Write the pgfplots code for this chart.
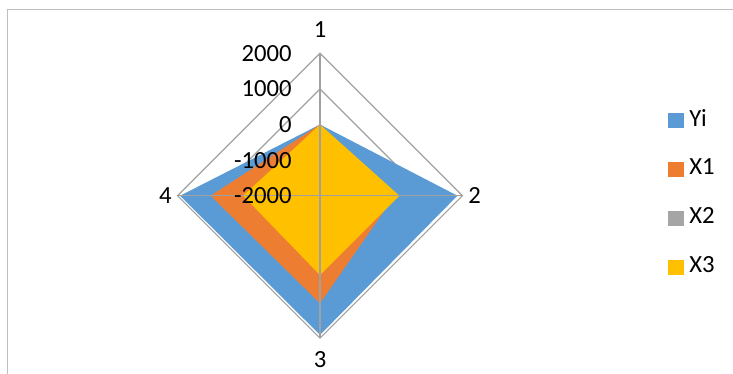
\documentclass[border=0pt]{standalone}
\usepackage{pgfplots}
\pgfplotsset{compat=1.18}
\usepackage{pgfplotstable}
\usepackage{fontspec}
\setmainfont{Carlito}
\definecolor{cYi}{HTML}{5B9BD5}
\definecolor{cX1}{HTML}{ED7D31}
\definecolor{cX2}{HTML}{A5A5A5}
\definecolor{cX3}{HTML}{FFC000}
\definecolor{gridc}{HTML}{A0A0A0}
\definecolor{framec}{HTML}{BFBFBF}
% direction of each spoke (dx,dy) and the values of each series
\pgfplotstableread{
dx dy Yi X1 X2 X3
0 1 0 0 0 0
1 0 1860 100 0 230
0 -1 1910 1020 0 230
-1 0 1930 1070 0 160
}\radar
\begin{document}
\begin{tikzpicture}[font=\fontsize{18.5}{22}\selectfont]
\path[use as bounding box] (0,0) rectangle (549.75pt,280.5pt);
\draw[draw=framec, line width=0.75pt] (5.6pt,-5pt) -- (5.6pt,273pt) -- (560pt,273pt);
\begin{axis}[at={(240pt,133.7pt)}, anchor=origin,
  x=26.7pt, y=26.7pt, xmin=-4, xmax=4, ymin=-4, ymax=4,
  hide axis, clip=false,
  legend image code/.code={\fill[#1] (0pt,-7pt) rectangle (11.5pt,4.5pt);},
  legend cell align=left,
  legend style={draw=none, fill=none, at={(1.722,0.805)}, anchor=north west,
    font=\fontsize{18.5}{22}\selectfont, row sep=23pt, column sep=4.3pt,
    inner sep=0pt, nodes={inner sep=0pt}},
]
% rings (values -1000, 0, 1000, 2000)
\draw[gridc, line width=0.9pt] (axis cs:0,1) -- (axis cs:1,0) -- (axis cs:0,-1) -- (axis cs:-1,0) -- cycle;
\draw[gridc, line width=0.9pt] (axis cs:0,2) -- (axis cs:2,0) -- (axis cs:0,-2) -- (axis cs:-2,0) -- cycle;
\draw[gridc, line width=0.9pt] (axis cs:0,3) -- (axis cs:3,0) -- (axis cs:0,-3) -- (axis cs:-3,0) -- cycle;
\draw[gridc, line width=0.9pt] (axis cs:0,4) -- (axis cs:4,0) -- (axis cs:0,-4) -- (axis cs:-4,0) -- cycle;

\addplot[fill=cYi, draw=none] table[x expr=\thisrow{dx}*(\thisrow{Yi}+2000)/1000, y expr=\thisrow{dy}*(\thisrow{Yi}+2000)/1000] {\radar};
\addlegendentry{Yi}
\addplot[fill=cX1, draw=none] table[x expr=\thisrow{dx}*(\thisrow{X1}+2000)/1000, y expr=\thisrow{dy}*(\thisrow{X1}+2000)/1000] {\radar};
\addlegendentry{X1}
\addplot[fill=cX2, draw=none] table[x expr=\thisrow{dx}*(\thisrow{X2}+2000)/1000, y expr=\thisrow{dy}*(\thisrow{X2}+2000)/1000] {\radar};
\addlegendentry{X2}
\addplot[fill=cX3, draw=none] table[x expr=\thisrow{dx}*(\thisrow{X3}+2000)/1000, y expr=\thisrow{dy}*(\thisrow{X3}+2000)/1000] {\radar};
\addlegendentry{X3}

% spokes
\draw[gridc, line width=0.9pt] (axis cs:0,0) -- (axis cs:0,4);
\draw[gridc, line width=0.9pt] (axis cs:0,0) -- (axis cs:4,0);
\draw[gridc, line width=0.9pt] (axis cs:0,0) -- (axis cs:0,-4);
\draw[gridc, line width=0.9pt] (axis cs:0,0) -- (axis cs:-4,0);

% radial tick labels
\node[anchor=east, inner sep=0pt, xshift=-21pt] at (axis cs:0,4) {2000};
\node[anchor=east, inner sep=0pt, xshift=-21pt] at (axis cs:0,3) {1000};
\node[anchor=east, inner sep=0pt, xshift=-21pt] at (axis cs:0,2) {0};
\node[anchor=east, inner sep=0pt, xshift=-21pt] at (axis cs:0,1) {-1000};
\node[anchor=east, inner sep=0pt, xshift=-21pt] at (axis cs:0,0) {-2000};

% category labels
\node[anchor=south, inner sep=0pt, yshift=11.5pt] at (axis cs:0,4) {1};
\node[anchor=west, inner sep=0pt, xshift=4.2pt] at (axis cs:4,0) {2};
\node[anchor=north, inner sep=0pt, yshift=-10pt] at (axis cs:0,-4) {3};
\node[anchor=east, inner sep=0pt, xshift=-4.2pt] at (axis cs:-4,0) {4};
\end{axis}
\end{tikzpicture}
\end{document}
